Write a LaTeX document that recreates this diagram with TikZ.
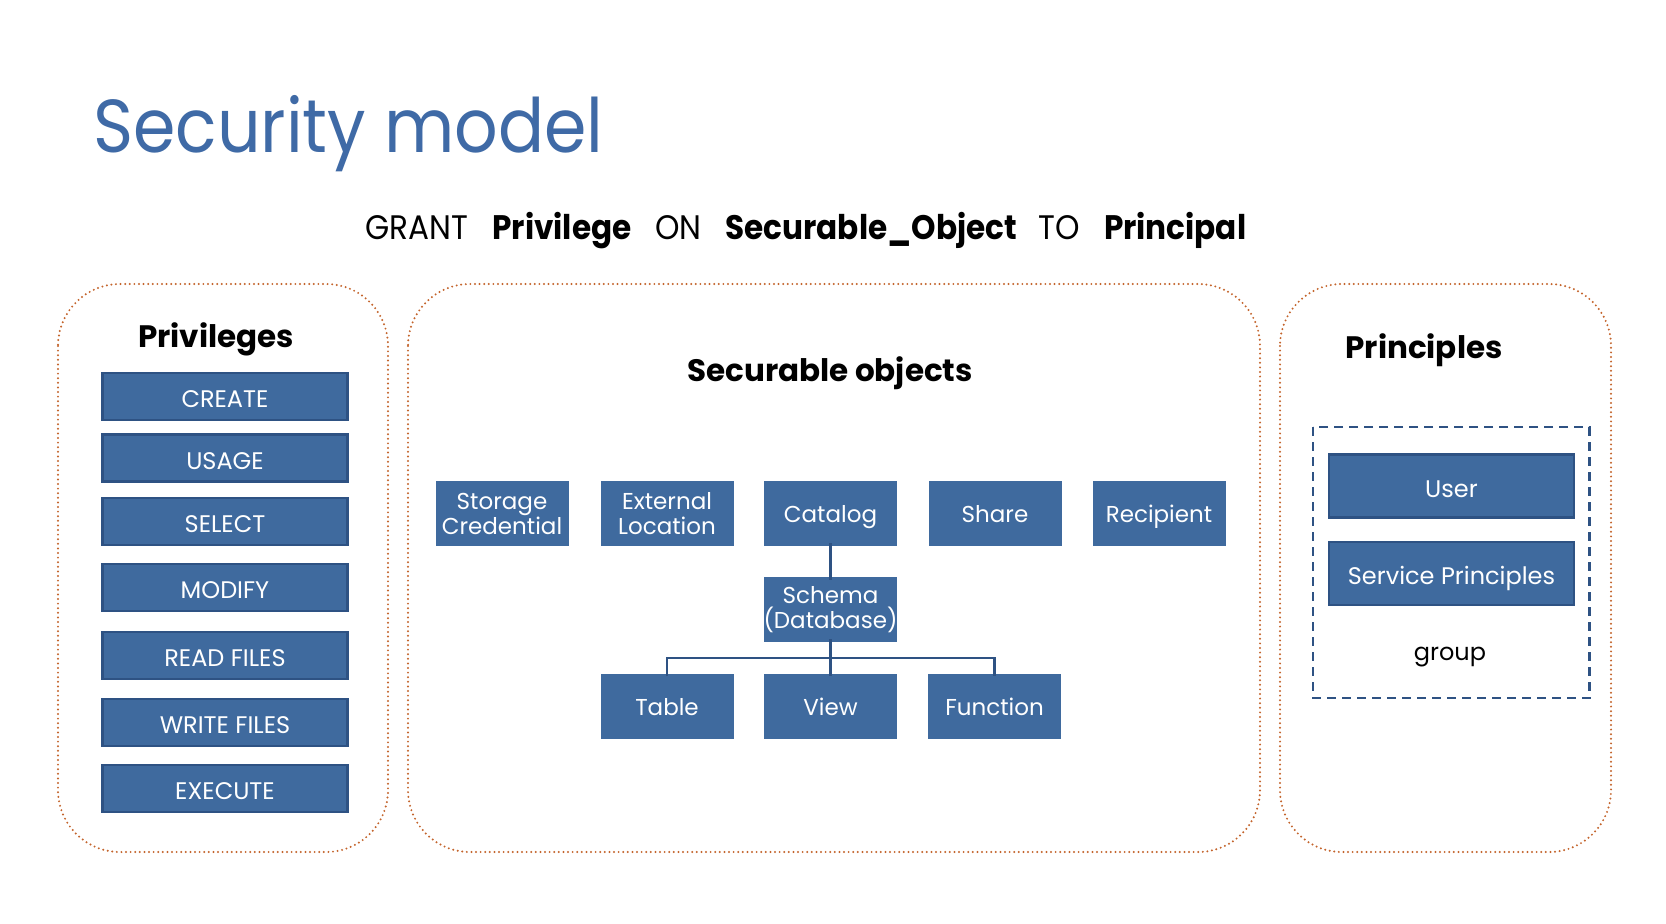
\documentclass[tikz,border=0pt]{standalone}
\usepackage{fontspec}
\usepackage{graphicx}
\setmainfont{Poppins}
\definecolor{titleblue}{HTML}{3F6AA6}
\definecolor{boxblue}{HTML}{3F6A9E}
\definecolor{boxedge}{HTML}{2E5283}
\definecolor{dotorange}{HTML}{C4642C}
\begin{document}
\begin{tikzpicture}[x=1pt,y=-1pt,
  panel/.style={draw=dotorange, line width=2.2pt, dash pattern=on 0pt off 4.6pt, line cap=round, rounded corners=62pt},
  privbox/.style={draw=boxedge, line width=2.2pt, fill=boxblue, text=white, minimum width=245pt, minimum height=47pt, inner sep=0pt, text height=22pt, text depth=0pt, font=\fontsize{24}{28}\selectfont},
  objbox/.style={fill=boxblue, text=white, minimum width=133pt, minimum height=65pt, inner sep=0pt, align=center, font=\fontsize{23}{25}\selectfont},
  objsingle/.style={objbox, text height=18pt, text depth=0pt},
  princbox/.style={draw=boxedge, line width=2.2pt, fill=boxblue, text=white, minimum width=245pt, minimum height=63pt, inner sep=0pt, text height=22pt, text depth=0pt, font=\fontsize{24}{28}\selectfont},
  heading/.style={font=\fontsize{31}{36}\selectfont\bfseries},
  tree/.style={draw=boxedge, line width=2.4pt}]
\useasboundingbox (0,0) rectangle (1666,924);
\fill[white] (0,0) rectangle (1666,924);

% title and statement
\node[anchor=base west, inner sep=0pt, text=titleblue, font=\fontsize{75}{80}\selectfont] (title) at (93,152) {\scalebox{0.91}[1]{Security model}};
\node[anchor=center, inner sep=0pt, font=\fontsize{34}{38}\selectfont] (grant) at (806,230.5)
  {\scalebox{0.915}[1]{GRANT\hspace{26pt}\textbf{Privilege}\hspace{26pt}ON\hspace{26pt}\textbf{Securable\_Object}\hspace{24pt}TO\hspace{26pt}\textbf{Principal}}};

% three dotted panels
\draw[panel] (58,284) rectangle (388,852);
\draw[panel] (408,284) rectangle (1260,852);
\draw[panel] (1280,284) rectangle (1611,852);

% privileges
\node[heading] (privh) at (216,339.5) {Privileges};
\node[privbox] (create) at (225,396.5) {CREATE};
\node[privbox] (usage) at (225,458) {USAGE};
\node[privbox] (select) at (225,521.5) {SELECT};
\node[privbox] (modify) at (225,587.5) {MODIFY};
\node[privbox] (read) at (225,655.5) {READ FILES};
\node[privbox] (write) at (225,722.5) {WRITE FILES};
\node[privbox] (execute) at (225,788.5) {EXECUTE};

% securable objects
\node[heading] (objh) at (830,373.5) {Securable objects};
\node[objbox] (storage) at (502,513.5) {Storage\\Credential};
\node[objbox] (external) at (667,513.5) {External\\Location};
\node[objsingle] (catalog) at (830.5,513.5) {Catalog};
\node[objsingle] (share) at (995,513.5) {Share};
\node[objsingle] (recipient) at (1159,513.5) {Recipient};
\node[objbox] (schema) at (830.5,609.5) {Schema\\(Database)};
\node[objsingle] (table) at (667,706) {Table};
\node[objsingle] (view) at (830.5,706) {View};
\node[objsingle] (function) at (994.5,706) {Function};

\coordinate (fork) at (830.5,658);
\draw[tree] ([yshift=3pt]catalog.south) -- ([yshift=-3pt]schema.north);
\draw[tree] ([yshift=3pt]schema.south) -- ([yshift=-3pt]view.north);
\draw[tree] ([yshift=-3pt]table.north) |- (fork) -| ([yshift=-3pt]function.north);

% principals
\node[heading] (princh) at (1424,350) {Principles};
\draw[draw=boxedge, line width=2.6pt, dash pattern=on 9pt off 6pt] (1313,427) rectangle (1589.5,698);
\node[princbox] (user) at (1451.5,486) {User};
\node[princbox] (service) at (1451.5,573.5) {Service Principles};
\node[font=\fontsize{24}{28}\selectfont] (group) at (1450,657.5) {group};
\end{tikzpicture}
\end{document}
